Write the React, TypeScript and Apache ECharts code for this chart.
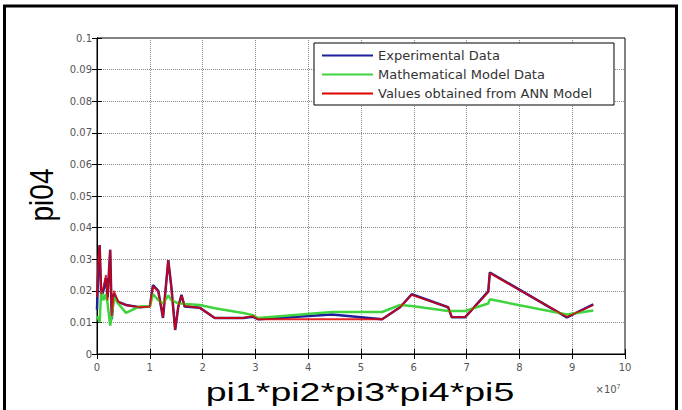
import React, { useEffect, useRef } from "react";
import * as echarts from "echarts";

// x values in units of 1e7
const xValues = [
  0, 0.03, 0.05, 0.08, 0.12, 0.17, 0.2, 0.25, 0.28, 0.32, 0.4, 0.55, 0.8, 1.0, 1.06, 1.16, 1.25, 1.35,
  1.41, 1.48, 1.54, 1.6, 1.66, 1.95, 2.23, 2.77, 2.95, 3.05, 4.45, 5.4, 5.74, 5.96, 6.65, 6.72, 6.97,
  7.41, 7.44, 8.9, 9.4,
];
const experimentalValues = [
  0.014, 0.03, 0.0345, 0.018, 0.02, 0.024, 0.018, 0.033, 0.011, 0.019, 0.0165, 0.0155, 0.0148, 0.015,
  0.0218, 0.02, 0.0114, 0.0297, 0.021, 0.0076, 0.015, 0.0187, 0.015, 0.0146, 0.0114, 0.0114, 0.0118,
  0.011, 0.0125, 0.011, 0.0148, 0.0189, 0.0148, 0.0116, 0.0116, 0.0198, 0.0258, 0.0116, 0.0157,
];
const modelValues = [
  0.012, 0.011, 0.01, 0.02, 0.017, 0.019, 0.016, 0.009, 0.012, 0.018, 0.016, 0.013, 0.015, 0.015,
  0.019, 0.017, 0.016, 0.0185, 0.017, 0.0165, 0.016, 0.016, 0.0158, 0.0155, 0.0145, 0.013, 0.0123,
  0.0114, 0.0133, 0.0133, 0.0155, 0.0152, 0.0136, 0.0136, 0.0136, 0.016, 0.0173, 0.0125, 0.0138,
];
const annValues = [
  0.018, 0.031, 0.0345, 0.019, 0.021, 0.025, 0.017, 0.033, 0.012, 0.02, 0.0165, 0.0155, 0.0148, 0.015,
  0.0215, 0.0198, 0.0116, 0.0297, 0.0205, 0.0078, 0.0152, 0.0185, 0.0152, 0.0146, 0.0114, 0.0114,
  0.012, 0.011, 0.011, 0.011, 0.0148, 0.0187, 0.0148, 0.0117, 0.0117, 0.0196, 0.0256, 0.0117, 0.0155,
];
const seriesNames = ["Experimental Data", "Mathematical Model Data", "Values obtained from ANN Model"];

export default function App() {
  const ref = useRef<HTMLDivElement>(null);
  useEffect(() => {
    const chart = echarts.init(ref.current!, null, { renderer: "svg" });
    const pairs = (ys: number[]) => xValues.map((x, i) => [x, ys[i]]);
    const fmtY = (v: number) => String(Number(v.toFixed(2)));
    const tickLabel = { color: "#555", fontFamily: "DejaVu Sans", fontSize: 10 };
    const split = { show: true, lineStyle: { color: "#888", type: "dotted", width: 1 } };
    const tick = { show: true, inside: true, length: 5, lineStyle: { color: "#000" } };
    const line = { show: true, lineStyle: { color: "#000", width: 1 } };
    chart.setOption({
      animation: false,
      backgroundColor: "#fff",
      grid: { left: 97, right: 57, top: 38, bottom: 56, show: true, borderColor: "#000", borderWidth: 1, backgroundColor: "#fff" },
      xAxis: [
        { type: "value", min: 0, max: 10, interval: 1, position: "bottom", axisLine: line, axisTick: tick, axisLabel: { ...tickLabel, margin: 8 }, splitLine: split },
        { type: "value", min: 0, max: 10, interval: 1, position: "top", axisLine: line, axisTick: tick, axisLabel: { show: false }, splitLine: { show: false } },
      ],
      yAxis: [
        { type: "value", min: 0, max: 0.1, interval: 0.01, position: "left", axisLine: line, axisTick: tick, axisLabel: { ...tickLabel, margin: 5, formatter: fmtY }, splitLine: split },
        { type: "value", min: 0, max: 0.1, interval: 0.01, position: "right", axisLine: line, axisTick: tick, axisLabel: { show: false }, splitLine: { show: false } },
      ],
      legend: {
        data: seriesNames.map((name) => ({ name, icon: "rect" })),
        orient: "vertical",
        left: 314,
        top: 43,
        itemWidth: 51,
        itemHeight: 2,
        itemGap: 4,
        padding: [5, 22, 4, 8],
        borderColor: "#000",
        borderWidth: 1,
        backgroundColor: "#fff",
        textStyle: { fontFamily: "DejaVu Sans", fontSize: 13, color: "#333", lineHeight: 15 },
      },
      series: [
        { name: seriesNames[0], type: "line", data: pairs(experimentalValues), showSymbol: false, symbol: "none", color: "#1f1f9e", lineStyle: { color: "#1f1f9e", width: 2.5 }, z: 2 },
        { name: seriesNames[1], type: "line", data: pairs(modelValues), showSymbol: false, symbol: "none", color: "#3fd43f", lineStyle: { color: "#3fd43f", width: 2.5 }, z: 3 },
        { name: seriesNames[2], type: "line", data: pairs(annValues), showSymbol: false, symbol: "none", color: "#e00000", lineStyle: { color: "#e00000", width: 1.8, opacity: 0.85 }, z: 4 },
      ],
      graphic: [
        { type: "line", shape: { x1: 4.5, y1: 5, x2: 4.5, y2: 410 }, style: { stroke: "#000", lineWidth: 3 }, silent: true },
        { type: "line", shape: { x1: 3, y1: 6, x2: 678, y2: 6 }, style: { stroke: "#000", lineWidth: 3 }, silent: true },
        { type: "line", shape: { x1: 676.5, y1: 5, x2: 676.5, y2: 410 }, style: { stroke: "#000", lineWidth: 3 }, silent: true },
        {
          type: "text", x: 42, y: 195, rotation: Math.PI / 2, scaleY: 1.2,
          style: { text: "pi04", font: "28px 'Liberation Sans', Arial, sans-serif", fill: "#000", align: "center", verticalAlign: "middle" },
        },
        {
          type: "text", x: 360, y: 392, scaleX: 1.5,
          style: { text: "pi1*pi2*pi3*pi4*pi5", font: "25px 'Liberation Sans', Arial, sans-serif", fill: "#000", align: "center", verticalAlign: "middle" },
        },
        {
          type: "text", x: 608, y: 389,
          style: {
            text: "×10{sup|7}",
            font: "10px 'DejaVu Sans', sans-serif",
            fill: "#555",
            align: "center",
            verticalAlign: "middle",
            rich: { sup: { fontSize: 7, fill: "#555", verticalAlign: "top", padding: [0, 0, 6, 0] } },
          },
        },
      ],
    });
    return () => chart.dispose();
  }, []);
  return <div ref={ref} style={{ position: "absolute", left: 0, top: 0, width: 682, height: 410, background: "#fff" }} />;
}
